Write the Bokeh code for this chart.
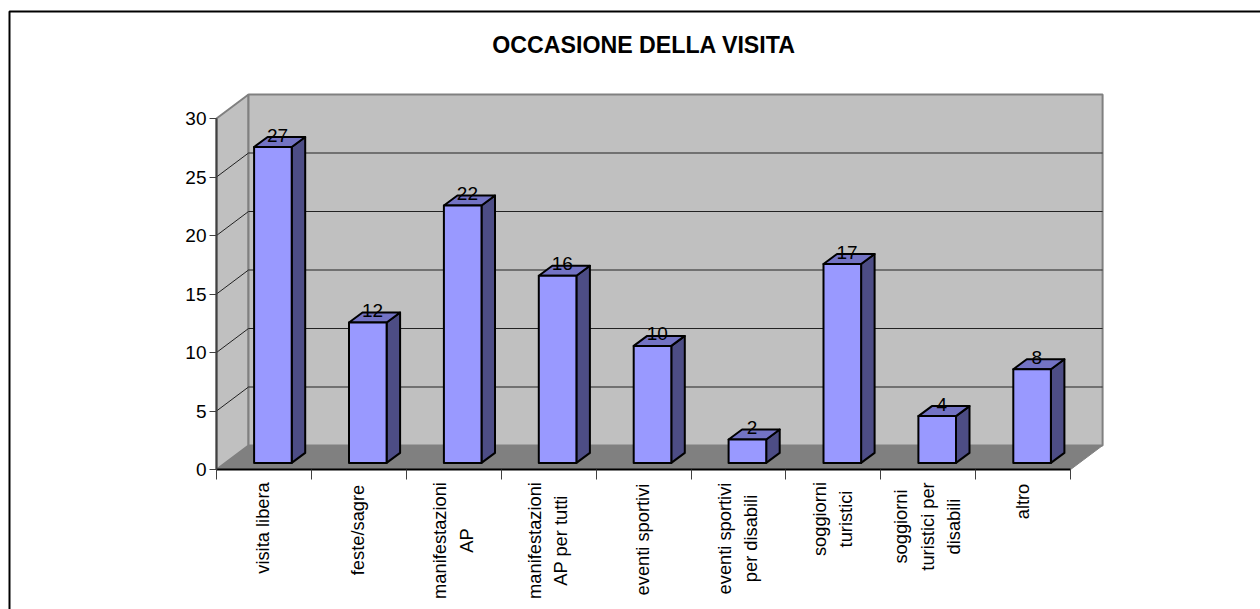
from math import pi
from bokeh.plotting import figure
from bokeh.models import FixedTicker, ColumnDataSource
from bokeh.core.properties import value
from bokeh.embed import file_html
from bokeh.resources import INLINE

# --- data ---
categories = ["visita libera", "feste/sagre", "manifestazioni\nAP", "manifestazioni\nAP per tutti",
              "eventi sportivi", "eventi sportivi\nper disabili", "soggiorni\nturistici",
              "soggiorni\nturistici per\ndisabili", "altro"]
values = [27, 12, 22, 16, 10, 2, 17, 4, 8]
y_ticks = [0, 5, 10, 15, 20, 25, 30]
title_text = "OCCASIONE DELLA VISITA"

# --- layout (page pixels) ---
W, H = 1260, 609
X0, Y0 = 216.0, 469.0      # axis origin on the page
UX, UY = 94.9, 11.7        # pixels per category / per value unit
def dx(px): return (px - X0) / UX
def dy(py): return (Y0 - py) / UY

FONT = value("Liberation Sans")
n = len(values)
DEPTH_X, DEPTH_Y = 32 / UX, 24 / UY       # depth of the floor
BAR_L, BAR_W = 37.6 / UX, 37.6 / UX       # bar position in its category
BAR_LIFT = 6.6 / UY
BAR_DX, BAR_DY = 13.5 / UX, 10 / UY       # depth of a bar
TOP = 30 + DEPTH_Y
# page y of the middle of each rotated category label
label_mid_y = [527.5, 529.5, 540, 540, 539, 538, 518.5, 526, 501]

p = figure(width=W, height=H, output_backend="svg", toolbar_location=None,
           x_range=(dx(0), dx(W)), y_range=(dy(H), dy(0)),
           min_border=0, min_border_left=0, min_border_right=0,
           min_border_top=0, min_border_bottom=0)
p.styles = {"position": "absolute", "left": "0px", "top": "0px"}
p.outline_line_color = None
p.xgrid.visible = False
p.ygrid.visible = False
p.background_fill_color = "white"

# chart frame (no bottom / right edge visible)
p.line([dx(9), dx(9), dx(W)], [dy(H), dy(11), dy(11)], line_color="black", line_width=2)

# 3D walls and floor
GREY = "#808080"
p.patch([0, DEPTH_X, DEPTH_X, 0], [0, DEPTH_Y, TOP, 30], fill_color="#C0C0C0", line_color=GREY, line_width=2)
p.patch([DEPTH_X, n + DEPTH_X, n + DEPTH_X, DEPTH_X], [DEPTH_Y, DEPTH_Y, TOP, TOP],
        fill_color="#C0C0C0", line_color=GREY, line_width=2)
p.patch([0, n, n + DEPTH_X, DEPTH_X], [0, 0, DEPTH_Y, DEPTH_Y], fill_color=GREY, line_color=GREY, line_width=1)

# gridlines across side wall and back wall
for t in y_ticks[1:-1]:
    p.line([0, DEPTH_X, n + DEPTH_X], [t, t + DEPTH_Y, t + DEPTH_Y], line_color="#222222", line_width=1)

# bars
for i, v in enumerate(values):
    l = i + BAR_L
    r = l + BAR_W
    b = BAR_LIFT
    t = v + BAR_LIFT
    p.patch([r, r + BAR_DX, r + BAR_DX, r], [b, b + BAR_DY, t + BAR_DY, t],
            fill_color="#4D4D85", line_color="black", line_width=2, line_join="round")
    p.patch([l, l + BAR_DX, r + BAR_DX, r], [t, t + BAR_DY, t + BAR_DY, t],
            fill_color="#7373C4", line_color="black", line_width=2, line_join="round")
    p.patch([l, r, r, l], [b, b, t, t], fill_color="#9999FF", line_color="black", line_width=2, line_join="round")

# value labels
src = ColumnDataSource(dict(
    x=[i + BAR_L + 23.5 / UX for i in range(n)],
    y=[v + BAR_LIFT + 12 / UY for v in values],
    t=[str(v) for v in values]))
p.text("x", "y", "t", source=src, text_font=FONT, text_font_size="19px", text_color="black",
       text_align="center", text_baseline="middle")

# title
p.text([dx(643.5)], [dy(44.5)], [title_text], text_font=FONT, text_font_size="23.2px", text_font_style="bold",
       text_color="black", text_align="center", text_baseline="middle")

# category labels: rotated, lines centred on one another
lab = ColumnDataSource(dict(
    x=[i + 0.5 - 1 / UX for i in range(n)],
    y=[dy(m) for m in label_mid_y],
    t=categories))
p.text("x", "y", "t", source=lab, angle=pi / 2, text_font=FONT, text_font_size="18.3px", text_color="black",
       text_align="center", text_baseline="middle", text_line_height=1.27)

# axes inside the frame
ya = p.yaxis[0]
ya.fixed_location = 0
ya.bounds = (0, 30)
ya.ticker = FixedTicker(ticks=y_ticks)
ya.major_tick_in = 0
ya.major_tick_out = 7
ya.minor_tick_in = 0
ya.minor_tick_out = 0
ya.major_label_standoff = 3
ya.axis_line_color = "#404040"
ya.axis_line_width = 2
ya.major_tick_line_color = "#404040"
ya.major_label_text_font = "Liberation Sans"
ya.major_label_text_font_size = "19px"
ya.major_label_text_color = "black"

xa = p.xaxis[0]
xa.fixed_location = 0
xa.bounds = (0, n)
xa.ticker = FixedTicker(ticks=[], minor_ticks=list(range(n + 1)))
xa.major_tick_in = 0
xa.major_tick_out = 0
xa.minor_tick_in = 0
xa.minor_tick_out = 10
xa.minor_tick_line_color = "#404040"
xa.axis_line_color = "black"
xa.axis_line_width = 2

open("out.html", "w").write(file_html(p, INLINE))
